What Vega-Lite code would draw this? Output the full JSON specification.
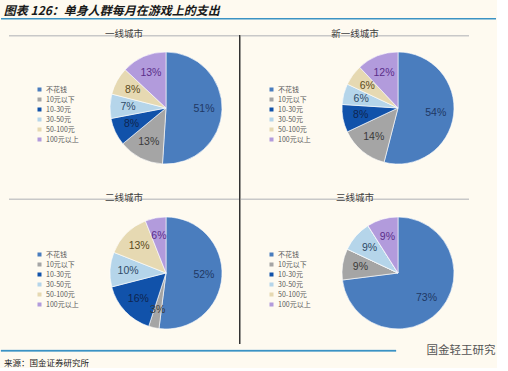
{
  "$schema": "https://vega.github.io/schema/vega-lite/v6.json",
  "padding": {"left": 0, "top": 5, "right": 0, "bottom": 0},
  "background": "#FEFAF0",
  "title": {"text": "图表 126：单身人群每月在游戏上的支出", "anchor": "start", "fontSize": 12, "fontStyle": "italic", "fontWeight": "bold", "font": "Noto Sans CJK SC", "color": "#1a1a1a", "offset": 0, "dx": 3},
  "datasets": {
    "d": [
      {"city": "一线城市", "cat": "不花钱", "k": 1, "v": 0.51},
      {"city": "一线城市", "cat": "10元以下", "k": 2, "v": 0.13},
      {"city": "一线城市", "cat": "10-30元", "k": 3, "v": 0.08},
      {"city": "一线城市", "cat": "30-50元", "k": 4, "v": 0.07},
      {"city": "一线城市", "cat": "50-100元", "k": 5, "v": 0.08},
      {"city": "一线城市", "cat": "100元以上", "k": 6, "v": 0.13},
      {"city": "新一线城市", "cat": "不花钱", "k": 1, "v": 0.54},
      {"city": "新一线城市", "cat": "10元以下", "k": 2, "v": 0.14},
      {"city": "新一线城市", "cat": "10-30元", "k": 3, "v": 0.08},
      {"city": "新一线城市", "cat": "30-50元", "k": 4, "v": 0.06},
      {"city": "新一线城市", "cat": "50-100元", "k": 5, "v": 0.06},
      {"city": "新一线城市", "cat": "100元以上", "k": 6, "v": 0.12},
      {"city": "二线城市", "cat": "不花钱", "k": 1, "v": 0.52},
      {"city": "二线城市", "cat": "10元以下", "k": 2, "v": 0.03},
      {"city": "二线城市", "cat": "10-30元", "k": 3, "v": 0.16},
      {"city": "二线城市", "cat": "30-50元", "k": 4, "v": 0.10},
      {"city": "二线城市", "cat": "50-100元", "k": 5, "v": 0.13},
      {"city": "二线城市", "cat": "100元以上", "k": 6, "v": 0.06},
      {"city": "三线城市", "cat": "不花钱", "k": 1, "v": 0.73},
      {"city": "三线城市", "cat": "10元以下", "k": 2, "v": 0.09},
      {"city": "三线城市", "cat": "10-30元", "k": 3, "v": 0},
      {"city": "三线城市", "cat": "30-50元", "k": 4, "v": 0.09},
      {"city": "三线城市", "cat": "50-100元", "k": 5, "v": 0},
      {"city": "三线城市", "cat": "100元以上", "k": 6, "v": 0.09}
    ]
  },
  "spacing": 9,
  "vconcat": [
    {"width": 495, "height": 1.5, "data": {"values": []}, "mark": {"type": "point"}, "encoding": {}, "view": {"fill": "#3B93C4", "stroke": null}},
    {
      "spacing": 0,
      "vconcat": [
        {
          "spacing": 0,
          "hconcat": [
            {"width": 8, "height": 1, "data": {"values": []}, "mark": {"type": "point"}, "encoding": {}},
            {
              "spacing": 26.5,
              "vconcat": [
                {
                  "spacing": 11,
                  "vconcat": [
                    {"width": 230, "height": 1.5, "data": {"values": []}, "mark": {"type": "point"}, "encoding": {}, "view": {"fill": "#C8C8C8", "stroke": null},
                     "title": {"text": "一线城市", "anchor": "middle", "fontSize": 9.5, "fontWeight": "normal", "font": "Noto Sans CJK SC", "color": "#404040", "offset": -3.5}},
                    {
                      "spacing": 0,
                      "resolve": {"scale": {"color": "independent"}},
                      "hconcat": [
                        {"width": 27, "height": 1, "data": {"values": []}, "mark": {"type": "point"}, "encoding": {}},
                        {
                          "width": 112, "height": 112,
                          "data": {"name": "d"},
                          "transform": [{"filter": "datum.city === '一线城市'"}],
                          "encoding": {"theta": {"field": "v", "type": "quantitative", "stack": true}, "order": {"field": "k", "type": "quantitative"}},
                          "layer": [
                            {"mark": {"type": "arc", "stroke": "#ffffff", "strokeWidth": 0.6},
                             "encoding": {"color": {"field": "cat", "type": "nominal",
                               "scale": {"domain": ["不花钱", "10元以下", "10-30元", "30-50元", "50-100元", "100元以上"], "range": ["#4A7DBE", "#A5A5A5", "#1152AA", "#B5D5EA", "#E6D9B2", "#B29BDC"]},
                               "legend": {"title": null, "orient": "none", "legendX": -74, "legendY": 34, "symbolType": "square", "symbolSize": 16, "symbolStrokeWidth": 0, "labelFontSize": 7, "labelColor": "#595959", "labelFont": "Noto Sans CJK SC", "rowPadding": 2, "labelOffset": 3}}}},
                            {"transform": [{"filter": "datum.v > 0"}],
                             "mark": {"type": "text", "radius": 38, "fontSize": 10.5, "font": "Liberation Sans"},
                             "encoding": {"text": {"field": "v", "type": "quantitative", "format": ".0%"},
                               "fill": {"field": "cat", "type": "nominal", "scale": {"domain": ["不花钱", "10元以下", "10-30元", "30-50元", "50-100元", "100元以上"], "range": ["#1F3864", "#3A3A3A", "#0E2550", "#2E4A66", "#5A4A20", "#5A2E8A"]}, "legend": null}}}
                          ]
                        }
                      ]
                    }
                  ]
                },
                {
                  "spacing": 12.5,
                  "vconcat": [
                    {"width": 230, "height": 1.5, "data": {"values": []}, "mark": {"type": "point"}, "encoding": {}, "view": {"fill": "#C8C8C8", "stroke": null},
                     "title": {"text": "二线城市", "anchor": "middle", "fontSize": 9.5, "fontWeight": "normal", "font": "Noto Sans CJK SC", "color": "#404040", "offset": -3.5}},
                    {
                      "spacing": 0,
                      "resolve": {"scale": {"color": "independent"}},
                      "hconcat": [
                        {"width": 27, "height": 1, "data": {"values": []}, "mark": {"type": "point"}, "encoding": {}},
                        {
                          "width": 112, "height": 112,
                          "data": {"name": "d"},
                          "transform": [{"filter": "datum.city === '二线城市'"}],
                          "encoding": {"theta": {"field": "v", "type": "quantitative", "stack": true}, "order": {"field": "k", "type": "quantitative"}},
                          "layer": [
                            {"mark": {"type": "arc", "stroke": "#ffffff", "strokeWidth": 0.6},
                             "encoding": {"color": {"field": "cat", "type": "nominal",
                               "scale": {"domain": ["不花钱", "10元以下", "10-30元", "30-50元", "50-100元", "100元以上"], "range": ["#4A7DBE", "#A5A5A5", "#1152AA", "#B5D5EA", "#E6D9B2", "#B29BDC"]},
                               "legend": {"title": null, "orient": "none", "legendX": -74, "legendY": 34, "symbolType": "square", "symbolSize": 16, "symbolStrokeWidth": 0, "labelFontSize": 7, "labelColor": "#595959", "labelFont": "Noto Sans CJK SC", "rowPadding": 2, "labelOffset": 3}}}},
                            {"transform": [{"filter": "datum.v > 0"}],
                             "mark": {"type": "text", "radius": 38, "fontSize": 10.5, "font": "Liberation Sans"},
                             "encoding": {"text": {"field": "v", "type": "quantitative", "format": ".0%"},
                               "fill": {"field": "cat", "type": "nominal", "scale": {"domain": ["不花钱", "10元以下", "10-30元", "30-50元", "50-100元", "100元以上"], "range": ["#1F3864", "#3A3A3A", "#0E2550", "#2E4A66", "#5A4A20", "#5A2E8A"]}, "legend": null}}}
                          ]
                        }
                      ]
                    }
                  ]
                }
              ]
            },
            {"width": 1.5, "height": 309, "data": {"values": []}, "mark": {"type": "point"}, "encoding": {}, "view": {"fill": "#333333", "stroke": null}},
            {
              "spacing": 26.5,
              "vconcat": [
                {
                  "spacing": 11,
                  "vconcat": [
                    {"width": 228, "height": 1.5, "data": {"values": []}, "mark": {"type": "point"}, "encoding": {}, "view": {"fill": "#C8C8C8", "stroke": null},
                     "title": {"text": "新一线城市", "anchor": "middle", "fontSize": 9.5, "fontWeight": "normal", "font": "Noto Sans CJK SC", "color": "#404040", "offset": -3.5}},
                    {
                      "spacing": 0,
                      "resolve": {"scale": {"color": "independent"}},
                      "hconcat": [
                        {"width": 26.5, "height": 1, "data": {"values": []}, "mark": {"type": "point"}, "encoding": {}},
                        {
                          "width": 112, "height": 112,
                          "data": {"name": "d"},
                          "transform": [{"filter": "datum.city === '新一线城市'"}],
                          "encoding": {"theta": {"field": "v", "type": "quantitative", "stack": true}, "order": {"field": "k", "type": "quantitative"}},
                          "layer": [
                            {"mark": {"type": "arc", "stroke": "#ffffff", "strokeWidth": 0.6},
                             "encoding": {"color": {"field": "cat", "type": "nominal",
                               "scale": {"domain": ["不花钱", "10元以下", "10-30元", "30-50元", "50-100元", "100元以上"], "range": ["#4A7DBE", "#A5A5A5", "#1152AA", "#B5D5EA", "#E6D9B2", "#B29BDC"]},
                               "legend": {"title": null, "orient": "none", "legendX": -74, "legendY": 34, "symbolType": "square", "symbolSize": 16, "symbolStrokeWidth": 0, "labelFontSize": 7, "labelColor": "#595959", "labelFont": "Noto Sans CJK SC", "rowPadding": 2, "labelOffset": 3}}}},
                            {"transform": [{"filter": "datum.v > 0"}],
                             "mark": {"type": "text", "radius": 38, "fontSize": 10.5, "font": "Liberation Sans"},
                             "encoding": {"text": {"field": "v", "type": "quantitative", "format": ".0%"},
                               "fill": {"field": "cat", "type": "nominal", "scale": {"domain": ["不花钱", "10元以下", "10-30元", "30-50元", "50-100元", "100元以上"], "range": ["#1F3864", "#3A3A3A", "#0E2550", "#2E4A66", "#5A4A20", "#5A2E8A"]}, "legend": null}}}
                          ]
                        }
                      ]
                    }
                  ]
                },
                {
                  "spacing": 12.5,
                  "vconcat": [
                    {"width": 228, "height": 1.5, "data": {"values": []}, "mark": {"type": "point"}, "encoding": {}, "view": {"fill": "#C8C8C8", "stroke": null},
                     "title": {"text": "三线城市", "anchor": "middle", "fontSize": 9.5, "fontWeight": "normal", "font": "Noto Sans CJK SC", "color": "#404040", "offset": -3.5}},
                    {
                      "spacing": 0,
                      "resolve": {"scale": {"color": "independent"}},
                      "hconcat": [
                        {"width": 26.5, "height": 1, "data": {"values": []}, "mark": {"type": "point"}, "encoding": {}},
                        {
                          "width": 112, "height": 112,
                          "data": {"name": "d"},
                          "transform": [{"filter": "datum.city === '三线城市'"}],
                          "encoding": {"theta": {"field": "v", "type": "quantitative", "stack": true}, "order": {"field": "k", "type": "quantitative"}},
                          "layer": [
                            {"mark": {"type": "arc", "stroke": "#ffffff", "strokeWidth": 0.6},
                             "encoding": {"color": {"field": "cat", "type": "nominal",
                               "scale": {"domain": ["不花钱", "10元以下", "10-30元", "30-50元", "50-100元", "100元以上"], "range": ["#4A7DBE", "#A5A5A5", "#1152AA", "#B5D5EA", "#E6D9B2", "#B29BDC"]},
                               "legend": {"title": null, "orient": "none", "legendX": -74, "legendY": 34, "symbolType": "square", "symbolSize": 16, "symbolStrokeWidth": 0, "labelFontSize": 7, "labelColor": "#595959", "labelFont": "Noto Sans CJK SC", "rowPadding": 2, "labelOffset": 3}}}},
                            {"transform": [{"filter": "datum.v > 0"}],
                             "mark": {"type": "text", "radius": 38, "fontSize": 10.5, "font": "Liberation Sans"},
                             "encoding": {"text": {"field": "v", "type": "quantitative", "format": ".0%"},
                               "fill": {"field": "cat", "type": "nominal", "scale": {"domain": ["不花钱", "10元以下", "10-30元", "30-50元", "50-100元", "100元以上"], "range": ["#1F3864", "#3A3A3A", "#0E2550", "#2E4A66", "#5A4A20", "#5A2E8A"]}, "legend": null}}}
                          ]
                        }
                      ]
                    }
                  ]
                }
              ]
            }
          ]
        },
        {
          "spacing": 0,
          "hconcat": [
            {"width": 395, "height": 1.5, "data": {"values": [{}]}, "mark": {"type": "text", "fontSize": 11.5, "font": "Noto Sans CJK SC"}, "encoding": {"text": {"value": ""}}, "view": {"fill": "#3B93C4", "stroke": "#3B93C4", "strokeWidth": 0.3},
             "title": {"text": "来源：国金证券研究所", "orient": "bottom", "anchor": "start", "fontSize": 8.5, "fontWeight": "normal", "font": "Noto Sans CJK SC", "color": "#222222", "offset": 3, "dx": 3}},
            {"width": 100, "height": 1.5, "data": {"values": [{}]}, "mark": {"type": "text", "fontSize": 11.5, "color": "#555555", "font": "Noto Sans CJK SC", "dx": 14}, "encoding": {"text": {"value": "国金轻王研究"}}}
          ]
        }
      ]
    }
  ],
  "config": {"view": {"stroke": null}}
}
